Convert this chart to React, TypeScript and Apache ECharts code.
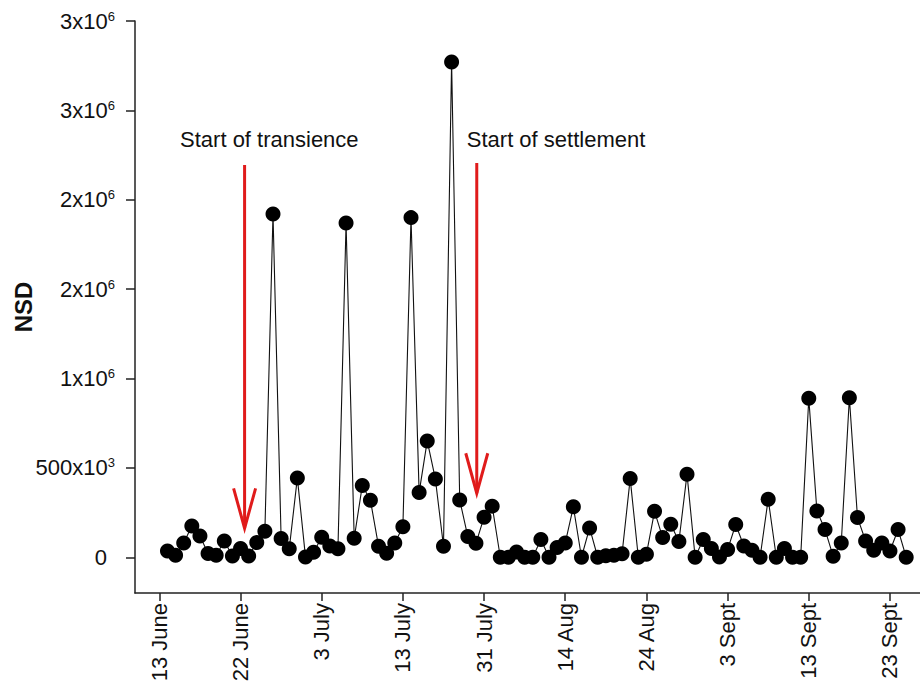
import React, { useEffect, useRef } from "react";
import * as echarts from "echarts";

// NSD values, one per sample (sample index 1..92)
const nsd: number[] = [
  35000, 11000, 80000, 175000, 119000, 21000, 11000, 91000, 7000, 49000,
  7000, 82000, 146000, 1920000, 105000, 47000, 444000, 2000, 28000, 112000,
  63000, 47000, 1870000, 106000, 401000, 319000, 62000, 22000, 80000, 170000,
  1900000, 362000, 651000, 438000, 62000, 2770000, 320000, 116000, 78000, 224000,
  286000, 0, 0, 30000, 0, 0, 99000, 0, 54000, 80000,
  282000, 0, 164000, 0, 8000, 11000, 20000, 440000, 0, 17000,
  257000, 110000, 185000, 88000, 465000, 0, 99000, 49000, 2000, 43000,
  183000, 63000, 39000, 0, 325000, 0, 49000, 0, 0, 889000,
  259000, 155000, 6000, 80000, 892000, 222000, 91000, 39000, 80000, 35000,
  155000, 0,
];

// x tick positions (sample index) and their date labels
const xTickValues: number[] = [0, 10, 20, 30, 40, 50, 60, 70, 80, 90];
const xTickLabels: string[] = [
  "13 June", "22 June", "3 July", "13 July", "31 July",
  "14 Aug", "24 Aug", "3 Sept", "13 Sept", "23 Sept",
];

// y ticks and their labels (mantissa, exponent)
const yTickValues: number[] = [0, 500000, 1000000, 1500000, 2000000, 2500000, 3000000];
const yTickMantissa: string[] = ["0", "500x10", "1x10", "2x10", "2x10", "3x10", "3x10"];
const yTickExponent: string[] = ["", "3", "6", "6", "6", "6", "6"];

// annotations: arrow x (sample index), arrow top/tip values, label position
const annotationLabels: string[] = ["Start of transience", "Start of settlement"];
const annotationArrowX: number[] = [10.5, 39.1];
const annotationArrowTop: number[] = [2195000, 2206000];
const annotationArrowTip: number[] = [162000, 358000];
const annotationTextX: number[] = [2.55, 37.87];
const annotationTextY: number[] = [2335000, 2335000];

const FONT = "'Liberation Sans', Arial, sans-serif";

export default function App() {
  const ref = useRef<HTMLDivElement>(null);

  useEffect(() => {
    if (!ref.current) return;
    const chart = echarts.init(ref.current, null, { renderer: "svg" });

    const option: any = {
      animation: false,
      backgroundColor: "#ffffff",
      grid: {
        left: 135,
        right: 0,
        top: 21,
        bottom: 92,
        containLabel: false,
        outerBoundsMode: "none",
      },
      xAxis: {
        type: "value",
        min: -3,
        max: 93.7,
        splitLine: { show: false },
        axisLine: { show: true, onZero: false, lineStyle: { color: "#222", width: 1.5 } },
        axisTick: {
          show: true,
          customValues: xTickValues,
          length: 8,
          lineStyle: { color: "#222", width: 1.5 },
        },
        axisLabel: {
          customValues: xTickValues,
          rotate: 90,
          margin: 10,
          fontFamily: FONT,
          fontSize: 22,
          color: "#111",
          formatter: (v: number) => {
            const i = xTickValues.indexOf(Math.round(v));
            return i >= 0 ? xTickLabels[i] : "";
          },
        },
      },
      yAxis: {
        type: "value",
        min: -200000,
        max: 3000000,
        name: "NSD",
        nameLocation: "middle",
        nameGap: 100,
        nameMoveOverlap: false,
        nameTextStyle: { fontFamily: FONT, fontSize: 24, fontWeight: "bold", color: "#111" },
        splitLine: { show: false },
        axisLine: { show: true, onZero: false, lineStyle: { color: "#222", width: 1.5 } },
        axisTick: {
          show: true,
          customValues: yTickValues,
          length: 9,
          lineStyle: { color: "#222", width: 1.5 },
        },
        axisLabel: {
          customValues: yTickValues,
          margin: 20,
          color: "#111",
          formatter: (v: number) => {
            const i = yTickValues.indexOf(Math.round(v));
            if (i < 0) return "";
            const m = yTickMantissa[i];
            const e = yTickExponent[i];
            return e ? `{b|${m}}{s|${e}}` : `{b|${m}}{p|}`;
          },
          rich: {
            b: { fontFamily: FONT, fontSize: 22, lineHeight: 23, color: "#111" },
            s: { fontFamily: FONT, fontSize: 13, lineHeight: 13, verticalAlign: "top", color: "#111" },
            p: { width: 8, height: 13 },
          },
        },
      },
      series: [
        {
          type: "line",
          data: nsd.map((v, i) => [i + 1, v]),
          symbol: "circle",
          symbolSize: 15,
          showSymbol: true,
          lineStyle: { color: "#111", width: 1.1 },
          itemStyle: { color: "#000" },
          z: 3,
        },
      ],
    };
    chart.setOption(option);

    const graphics: any[] = [];
    for (let k = 0; k < annotationLabels.length; k++) {
      const top = chart.convertToPixel({ gridIndex: 0 }, [annotationArrowX[k], annotationArrowTop[k]]);
      const tip = chart.convertToPixel({ gridIndex: 0 }, [annotationArrowX[k], annotationArrowTip[k]]);
      const txt = chart.convertToPixel({ gridIndex: 0 }, [annotationTextX[k], annotationTextY[k]]);
      const headH = 40;
      const headW = 11;
      graphics.push({
        type: "line",
        shape: { x1: top[0], y1: top[1], x2: tip[0], y2: tip[1] },
        style: { stroke: "#e01b1b", lineWidth: 3 },
        z: 10,
      });
      graphics.push({
        type: "polyline",
        shape: {
          points: [
            [tip[0] - headW, tip[1] - headH],
            [tip[0], tip[1]],
            [tip[0] + headW, tip[1] - headH],
          ],
        },
        style: { stroke: "#e01b1b", lineWidth: 3, fill: null },
        z: 10,
      });
      graphics.push({
        type: "text",
        x: txt[0],
        y: txt[1],
        style: {
          text: annotationLabels[k],
          fontFamily: FONT,
          fontSize: 22,
          fill: "#111",
          textAlign: "left",
          textVerticalAlign: "middle",
        },
        z: 10,
      });
    }
    chart.setOption({ graphic: graphics });

    return () => chart.dispose();
  }, []);

  return (
    <div
      ref={ref}
      style={{ position: "fixed", left: 0, top: 0, width: 920, height: 685, background: "#fff" }}
    />
  );
}
